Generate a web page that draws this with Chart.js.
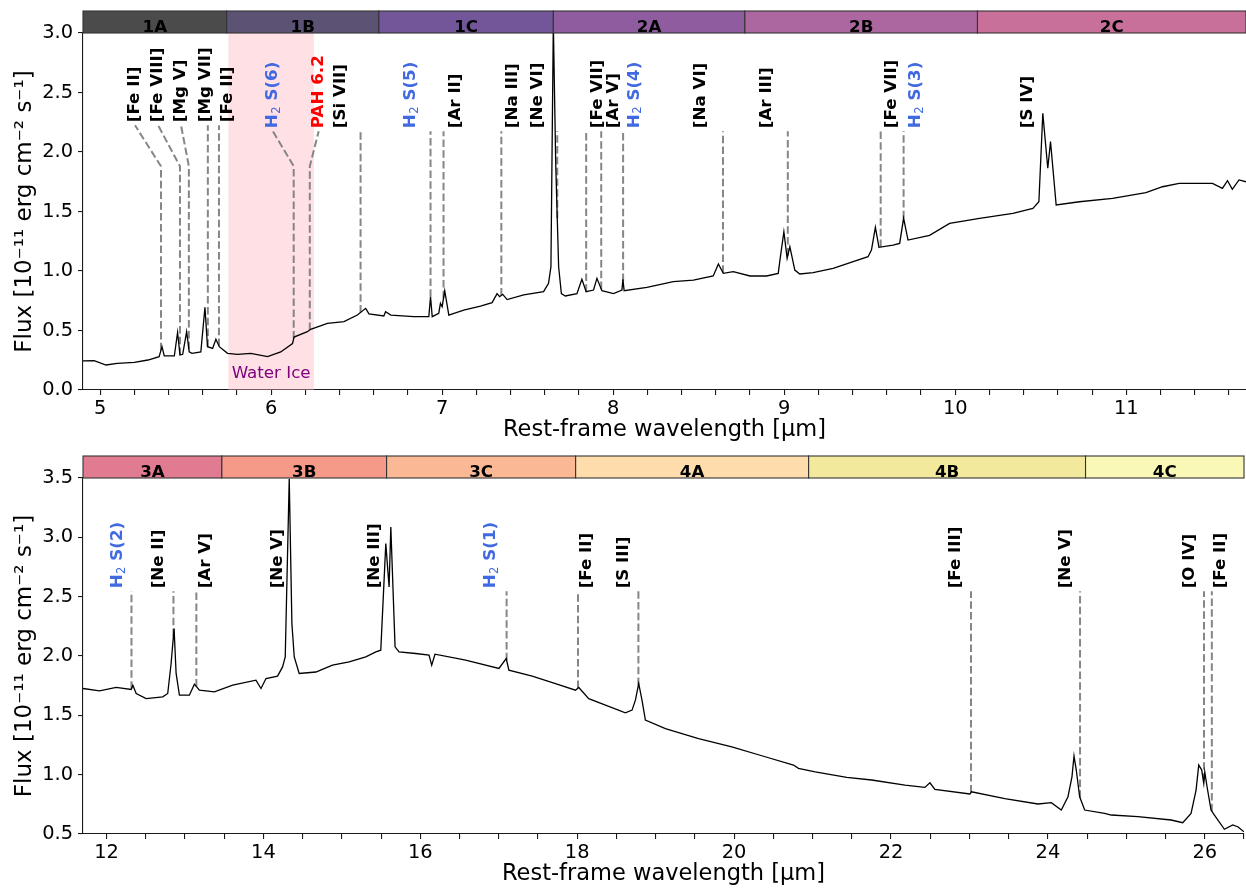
<!DOCTYPE html>
<html>
<head>
<meta charset="utf-8">
<title>MIRI MRS spectrum</title>
<script src="https://cdn.jsdelivr.net/npm/chart.js@4.4.1/dist/chart.umd.min.js"></script>
<style>
  html, body { margin: 0; padding: 0; background: #fff; }
  canvas { display: block; }
</style>
</head>
<body>
<canvas id="top" width="1246" height="444"></canvas>
<canvas id="bottom" width="1246" height="444"></canvas>
<script>
/* global Chart */

// Channel 1-2 spectrum (rest-frame micron, flux in 1e-11 erg/cm2/s)
const shortWave = [
  4.900, 4.965, 5.035, 5.100, 5.200, 5.280, 5.345, 5.362, 5.375, 5.434,
  5.453, 5.467, 5.483, 5.506, 5.521, 5.537, 5.589, 5.613, 5.628, 5.658,
  5.677, 5.697, 5.745, 5.804, 5.881, 5.979, 6.056, 6.125, 6.134, 6.212,
  6.231, 6.329, 6.426, 6.504, 6.553, 6.572, 6.659, 6.669, 6.700, 6.834,
  6.922, 6.932, 6.942, 6.980, 6.990, 7.000, 7.015, 7.039, 7.126, 7.224,
  7.292, 7.321, 7.336, 7.354, 7.380, 7.477, 7.593, 7.622, 7.636, 7.650,
  7.664, 7.681, 7.697, 7.720, 7.788, 7.817, 7.842, 7.885, 7.905, 7.934,
  8.002, 8.051, 8.057, 8.064, 8.197, 8.352, 8.469, 8.585, 8.615, 8.644,
  8.702, 8.800, 8.897, 8.965, 8.975, 8.998, 9.017, 9.033, 9.062, 9.091,
  9.169, 9.286, 9.403, 9.490, 9.510, 9.533, 9.554, 9.636, 9.675, 9.698,
  9.724, 9.850, 9.967, 10.142, 10.337, 10.454, 10.489, 10.512, 10.541, 10.557,
  10.590, 10.726, 10.920, 11.115, 11.212, 11.309, 11.504, 11.562, 11.592, 11.620,
  11.659, 11.700
];
const shortFlux = [
  0.244, 0.246, 0.210, 0.224, 0.232, 0.252, 0.280, 0.364, 0.286, 0.286,
  0.485, 0.294, 0.300, 0.490, 0.320, 0.308, 0.320, 0.695, 0.364, 0.350,
  0.426, 0.364, 0.308, 0.300, 0.308, 0.280, 0.320, 0.390, 0.445, 0.490,
  0.510, 0.560, 0.574, 0.630, 0.686, 0.640, 0.622, 0.658, 0.630, 0.616,
  0.616, 0.784, 0.616, 0.644, 0.728, 0.700, 0.834, 0.630, 0.672, 0.705,
  0.734, 0.810, 0.784, 0.804, 0.760, 0.800, 0.826, 0.896, 1.036, 3.080,
  1.900, 1.036, 0.810, 0.790, 0.810, 0.930, 0.826, 0.840, 0.938, 0.834,
  0.810, 0.840, 0.930, 0.834, 0.862, 0.910, 0.924, 0.958, 1.059, 0.980,
  0.994, 0.958, 0.958, 0.980, 1.092, 1.330, 1.107, 1.204, 1.008, 0.975,
  0.986, 1.022, 1.078, 1.120, 1.176, 1.367, 1.199, 1.218, 1.232, 1.443,
  1.260, 1.300, 1.400, 1.443, 1.484, 1.526, 1.582, 2.325, 1.863, 2.087,
  1.555, 1.582, 1.610, 1.658, 1.708, 1.736, 1.736, 1.694, 1.759, 1.686,
  1.765, 1.750
];

// Channel 3-4 spectrum
const longWave = [
  11.700, 11.911, 12.123, 12.314, 12.335, 12.378, 12.505, 12.717, 12.780, 12.823,
  12.861, 12.887, 12.929, 13.056, 13.120, 13.184, 13.375, 13.608, 13.905, 13.969,
  14.033, 14.180, 14.244, 14.278, 14.329, 14.363, 14.393, 14.456, 14.669, 14.880,
  15.093, 15.305, 15.433, 15.496, 15.560, 15.602, 15.624, 15.678, 15.729, 15.941,
  16.111, 16.145, 16.187, 16.578, 17.002, 17.095, 17.129, 17.426, 17.723, 17.978,
  18.020, 18.147, 18.360, 18.614, 18.699, 18.742, 18.784, 18.826, 18.869, 19.124,
  19.547, 19.971, 20.396, 20.757, 20.820, 21.033, 21.436, 21.753, 22.178, 22.432,
  22.496, 22.560, 23.005, 23.026, 23.451, 23.874, 24.044, 24.171, 24.256, 24.307,
  24.333, 24.362, 24.405, 24.469, 24.723, 24.808, 25.147, 25.571, 25.719, 25.825,
  25.889, 25.923, 25.961, 25.987, 26.000, 26.029, 26.080, 26.123, 26.250, 26.356,
  26.420, 26.500
];
const longFlux = [
  1.726, 1.706, 1.735, 1.718, 1.754, 1.684, 1.641, 1.656, 1.684, 1.937,
  2.231, 1.853, 1.670, 1.670, 1.763, 1.712, 1.698, 1.754, 1.796, 1.726,
  1.810, 1.830, 1.908, 1.992, 3.494, 2.273, 1.992, 1.853, 1.865, 1.923,
  1.950, 1.992, 2.035, 2.049, 2.947, 2.582, 3.087, 2.077, 2.035, 2.021,
  2.007, 1.923, 2.015, 1.965, 1.895, 1.979, 1.880, 1.830, 1.768, 1.712,
  1.735, 1.641, 1.586, 1.521, 1.544, 1.628, 1.768, 1.628, 1.460, 1.388,
  1.304, 1.235, 1.151, 1.081, 1.053, 1.024, 0.977, 0.955, 0.912, 0.893,
  0.932, 0.876, 0.837, 0.856, 0.799, 0.753, 0.764, 0.702, 0.814, 0.982,
  1.157, 1.039, 0.814, 0.702, 0.673, 0.660, 0.646, 0.618, 0.595, 0.674,
  0.870, 1.081, 1.039, 0.927, 1.024, 0.898, 0.702, 0.660, 0.540, 0.576,
  0.561, 0.519
];

// MRS sub-bands
const shortBands = ['1A', '1B', '1C', '2A', '2B', '2C'];
const shortBandEdges = [4.90, 5.74, 6.63, 7.65, 8.77, 10.13, 11.70];
const longBands = ['3A', '3B', '3C', '4A', '4B', '4C'];
const longBandEdges = [11.55, 13.47, 15.57, 17.98, 20.95, 24.48, 27.90];

// Identified features
const shortLines = ['[Fe II]', '[Fe VIII]', '[Mg V]', '[Mg VII]', '[Fe II]', 'H2 S(6)', 'PAH 6.2',
  '[Si VII]', 'H2 S(5)', '[Ar II]', '[Na III]', '[Ne VI]', '[Fe VII]', '[Ar V]', 'H2 S(4)',
  '[Na VI]', '[Ar III]', '[Fe VII]', 'H2 S(3)', '[S IV]'];
const shortLineWave = [5.356, 5.467, 5.519, 5.630, 5.695, 6.132, 6.226, 6.523, 6.932, 7.008,
  7.346, 7.673, 7.842, 7.930, 8.058, 8.642, 9.021, 9.564, 9.698, 10.512];
const longLines = ['H2 S(2)', '[Ne II]', '[Ar V]', '[Ne V]', '[Ne III]', 'H2 S(1)', '[Fe II]',
  '[S III]', '[Fe III]', '[Ne V]', '[O IV]', '[Fe II]'];
const longLineWave = [12.318, 12.853, 13.145, 14.329, 15.560, 17.10, 18.01, 18.78, 23.02,
  24.41, 25.99, 26.09];

// Label placement (wavelength of label, flux at label foot, kink of leader)
const shortLabelAt = [5.204, 5.339, 5.473, 5.619, 5.747, 6.010, 6.278, 6.407, 6.815, 7.078,
  7.411, 7.556, 7.907, 8.000, 8.123, 8.514, 8.899, 9.629, 9.769, 10.422];
const shortLabelFoot = [2.25, 2.25, 2.25, 2.25, 2.25, 2.2, 2.2, 2.2, 2.2, 2.2,
  2.2, 2.2, 2.2, 2.2, 2.2, 2.2, 2.2, 2.2, 2.2, 2.2];
const shortKink = [1.88, 1.88, 1.88, null, null, 1.88, 1.88, null, null, null,
  null, null, null, null, null, null, null, null, null, null];
const longLabelAt = [12.14, 12.66, 13.27, 14.18, 15.42, 16.90, 18.12, 18.59, 22.83, 24.23,
  25.81, 26.20];
const longLabelFoot = longLabelAt.map(() => 2.57);
const longKink = longLabelAt.map(() => null);

const bandColors = ['#4b4b4b', '#5c5274', '#725699', '#8e5c9f', '#ac67a1', '#c9709a',
  '#e07b91', '#f59a88', '#fbb894', '#fedcab', '#f3e99c', '#f9f8b7'];

const FONT = "'DejaVu Sans', sans-serif";
Chart.defaults.font.family = FONT;
Chart.defaults.color = '#000';

// Linear lookup of the spectrum so leaders stop on the curve
function fluxAt(waves, flux, w) {
  for (let i = 1; i < waves.length; i++) {
    if (waves[i] >= w) {
      const t = (w - waves[i - 1]) / (waves[i] - waves[i - 1]);
      return flux[i - 1] + t * (flux[i] - flux[i - 1]);
    }
  }
  return flux[flux.length - 1];
}

function drawLabel(ctx, text, px, py) {
  const bold = 'bold 16.7px ' + FONT;
  let color = '#000';
  if (text.startsWith('H2')) color = '#4169e1';
  if (text.startsWith('PAH')) color = '#ff0000';
  ctx.save();
  ctx.translate(px, py);
  ctx.rotate(-Math.PI / 2);
  ctx.textBaseline = 'middle';
  ctx.textAlign = 'left';
  ctx.fillStyle = color;
  ctx.font = bold;
  if (text.startsWith('H2')) {
    ctx.fillText('H', 0, 0);
    let w = ctx.measureText('H').width;
    ctx.font = '11.5px ' + FONT;
    ctx.fillText('2', w + 0.5, 4);
    w += ctx.measureText('2').width + 0.5;
    ctx.font = bold;
    ctx.fillText(text.slice(2), w, 0);
  } else {
    ctx.fillText(text, 0, 0);
  }
  ctx.restore();
}

function panelPlugin(p) {
  return {
    id: 'panel',
    beforeDatasetsDraw(chart) {
      const { ctx, chartArea: a, scales: { x, y } } = chart;
      ctx.save();
      ctx.beginPath();
      ctx.rect(a.left, a.top, a.right - a.left, a.bottom - a.top);
      ctx.clip();
      if (p.ice) {
        const x0 = x.getPixelForValue(p.ice[0]);
        const x1 = x.getPixelForValue(p.ice[1]);
        ctx.fillStyle = 'rgba(255, 182, 193, 0.42)';
        ctx.fillRect(x0, a.top, x1 - x0, a.bottom - a.top);
      }
      ctx.strokeStyle = 'rgba(128, 128, 128, 0.95)';
      ctx.lineWidth = 2;
      ctx.setLineDash([7.5, 3.3]);
      p.lineWave.forEach((w, i) => {
        const top = p.labelFoot[i] - 0.025;
        const f = fluxAt(p.waves, p.flux, w);
        if (f >= top) return;
        const px = x.getPixelForValue(w);
        ctx.beginPath();
        ctx.moveTo(px, y.getPixelForValue(f));
        if (p.kink[i] !== null) {
          ctx.lineTo(px, y.getPixelForValue(p.kink[i]));
          ctx.lineTo(x.getPixelForValue(p.labelAt[i]), y.getPixelForValue(top));
        } else {
          ctx.lineTo(px, y.getPixelForValue(top));
        }
        ctx.stroke();
      });
      ctx.restore();
    },
    afterDraw(chart) {
      const { ctx, chartArea: a, scales: { x, y } } = chart;
      // sub-band strip above the frame
      ctx.save();
      p.bands.forEach((name, i) => {
        const lo = Math.max(p.bandEdges[i], p.xMin);
        const hi = Math.min(p.bandEdges[i + 1], p.xMax);
        const x0 = x.getPixelForValue(lo);
        const x1 = x.getPixelForValue(hi);
        ctx.fillStyle = bandColors[p.colorOffset + i];
        ctx.fillRect(x0, a.top - 22, x1 - x0, 22);
        ctx.strokeStyle = '#333';
        ctx.lineWidth = 1.1;
        ctx.strokeRect(x0, a.top - 22, x1 - x0, 22);
        ctx.fillStyle = '#000';
        ctx.font = 'bold 16.7px ' + FONT;
        ctx.textAlign = 'center';
        ctx.textBaseline = 'alphabetic';
        ctx.fillText(name, (x0 + x1) / 2, a.top - 1.5);
      });
      ctx.restore();

      p.lines.forEach((name, i) => {
        drawLabel(ctx, name, x.getPixelForValue(p.labelAt[i]), y.getPixelForValue(p.labelFoot[i]));
      });

      if (p.ice) {
        ctx.save();
        ctx.fillStyle = '#800080';
        ctx.font = '16.7px ' + FONT;
        ctx.textAlign = 'center';
        ctx.textBaseline = 'alphabetic';
        ctx.fillText('Water Ice', x.getPixelForValue((p.ice[0] + p.ice[1]) / 2), y.getPixelForValue(0.1));
        ctx.restore();
      }
    }
  };
}

function buildConfig(p) {
  const points = p.waves.map((w, i) => ({ x: w, y: p.flux[i] }));
  const xTicks = [];
  const first = Math.ceil(p.xMin / p.minorStep - 1e-9);
  for (let k = first; k * p.minorStep <= p.xMax + 1e-9; k++) {
    xTicks.push({ value: +(k * p.minorStep).toFixed(3) });
  }
  const axisColor = '#1a1a1a';

  return {
    type: 'line',
    data: {
      datasets: [{
        data: points,
        borderColor: '#000',
        borderWidth: 1.3,
        pointRadius: 0,
        tension: 0,
        fill: false
      }]
    },
    options: {
      responsive: false,
      animation: false,
      events: [],
      layout: { padding: { top: p.padTop, left: 0, right: 0, bottom: 0 } },
      plugins: { legend: { display: false }, tooltip: { enabled: false } },
      scales: {
        x: {
          type: 'linear',
          min: p.xMin,
          max: p.xMax,
          afterBuildTicks: (scale) => { scale.ticks = xTicks.map((t) => ({ value: t.value })); },
          afterFit: (scale) => { scale.height = 54; },
          ticks: {
            autoSkip: false,
            maxRotation: 0,
            minRotation: 0,
            padding: 2,
            color: '#000',
            font: { size: 19.4 },
            callback: (v) => {
              const r = Math.round(v);
              return Math.abs(v - r) < 1e-6 && r % p.majorEvery === 0 ? String(r) : '';
            }
          },
          grid: { drawOnChartArea: false, drawTicks: true, tickLength: 5, color: axisColor, lineWidth: 1.1 },
          border: { display: true, color: axisColor, width: 1.1 },
          title: {
            display: true,
            text: 'Rest-frame wavelength [µm]',
            font: { size: 22.5 },
            color: '#000',
            padding: { top: 0, bottom: 0 }
          }
        },
        y: {
          min: p.yMin,
          max: p.yMax,
          afterFit: (scale) => { scale.width = 83; },
          ticks: {
            stepSize: 0.5,
            padding: 5,
            color: '#000',
            font: { size: 19.4 },
            callback: (v) => v.toFixed(1)
          },
          grid: { drawOnChartArea: false, drawTicks: true, tickLength: 5, color: axisColor, lineWidth: 1.1 },
          border: { display: true, color: axisColor, width: 1.1 },
          title: {
            display: true,
            text: 'Flux [10⁻¹¹ erg cm⁻² s⁻¹]',
            font: { size: 23 },
            color: '#000',
            padding: { top: 11, bottom: 0 }
          }
        }
      }
    },
    plugins: [panelPlugin(p)]
  };
}

const shortPanel = {
  waves: shortWave, flux: shortFlux,
  xMin: 4.9, xMax: 11.7, yMin: 0, yMax: 3, minorStep: 0.2, majorEvery: 1,
  bands: shortBands, bandEdges: shortBandEdges, colorOffset: 0,
  lines: shortLines, lineWave: shortLineWave,
  labelAt: shortLabelAt, labelFoot: shortLabelFoot, kink: shortKink,
  ice: [5.75, 6.25], padTop: 33
};

const longPanel = {
  waves: longWave, flux: longFlux,
  xMin: 11.7, xMax: 26.5, yMin: 0.5, yMax: 3.5, minorStep: 0.5, majorEvery: 2,
  bands: longBands, bandEdges: longBandEdges, colorOffset: 6,
  lines: longLines, lineWave: longLineWave,
  labelAt: longLabelAt, labelFoot: longLabelFoot, kink: longKink,
  ice: null, padTop: 34
};

new Chart(document.getElementById('top').getContext('2d'), buildConfig(shortPanel));
new Chart(document.getElementById('bottom').getContext('2d'), buildConfig(longPanel));
</script>
</body>
</html>
